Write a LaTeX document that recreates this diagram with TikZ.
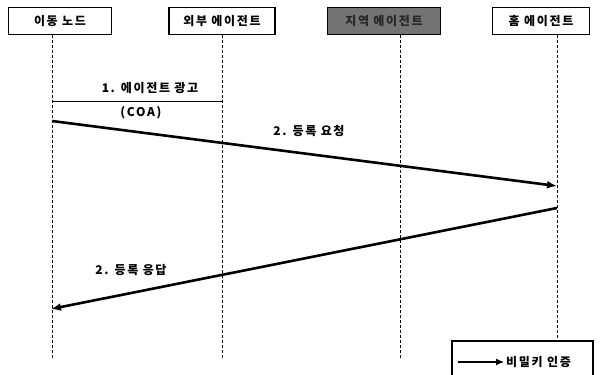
\documentclass[tikz,border=0pt]{standalone}
\usepackage{fontspec}
\setmainfont{Noto Sans CJK KR}
\usetikzlibrary{arrows.meta}
\newcommand{\reffont}{\fontsize{12}{14}\selectfont\bfseries\addfontfeature{LetterSpace=14}}
\begin{document}
\begin{tikzpicture}[x=1pt,y=-1pt,
  actor/.style={draw=black,line width=1.3pt,fill=white,minimum height=27pt,inner xsep=4pt,font=\reffont},
  life/.style={line width=0.8pt,dash pattern=on 3pt off 2pt},
  msg/.style={line width=2.6pt,-{Latex[length=10pt,width=8pt]}},
  lbl/.style={font=\reffont,inner sep=1pt}]
\useasboundingbox (0,0) rectangle (600,375);
\node[actor,minimum width=103pt] (mn) at (60,21) {이동 노드};
\node[actor,minimum width=106pt] (fa) at (222,21) {외부 에이전트};
\node[actor,minimum width=113pt,fill=black!55,text=black!85] (ra) at (384,21) {지역 에이전트};
\node[actor,minimum width=97pt] (ha) at (541,21) {홈 에이전트};
\coordinate (mnS) at (52,35);
\coordinate (faS) at (222,35);
\coordinate (raS) at (400,35);
\coordinate (haS) at (557,35);
\coordinate (mnE) at (52,358);
\coordinate (faE) at (222,358);
\coordinate (raE) at (400,358);
\coordinate (haE) at (557,341);
\draw[life] (mnS) -- (mnE);
\draw[life] (faS) -- (faE);
\draw[life] (raS) -- (raE);
\draw[life] (haS) -- (haE);
\coordinate (a1) at (52,101);
\coordinate (b1) at (222,101);
\draw[line width=0.7pt] (a1) -- (b1);
\node[lbl] (t1) at (150,88) {1. 에이전트 광고};
\node[lbl] (t1b) at (141,113) {(COA)};
\coordinate (a2) at (52,121);
\coordinate (b2) at (557,186);
\draw[msg] (a2) -- (b2);
\node[lbl] (t2) at (309,131) {2. 등록 요청};
\coordinate (a3) at (557,208);
\coordinate (b3) at (51,309);
\draw[msg] (a3) -- (b3);
\node[lbl] (t3) at (131,270) {2. 등록 응답};
\coordinate (lg1) at (452,378);
\coordinate (lg2) at (452,341);
\coordinate (lg3) at (593,341);
\coordinate (lg4) at (593,378);
\draw[line width=1.1pt] (lg1) -- (lg2) -- (lg3) -- (lg4);
\coordinate (la) at (458,362);
\coordinate (lb) at (504,362);
\draw[line width=1.1pt,-{Latex[length=8pt,width=7pt]}] (la) -- (lb);
\node[lbl,anchor=west] (lt) at (505,362) {비밀키 인증};
\end{tikzpicture}
\end{document}
